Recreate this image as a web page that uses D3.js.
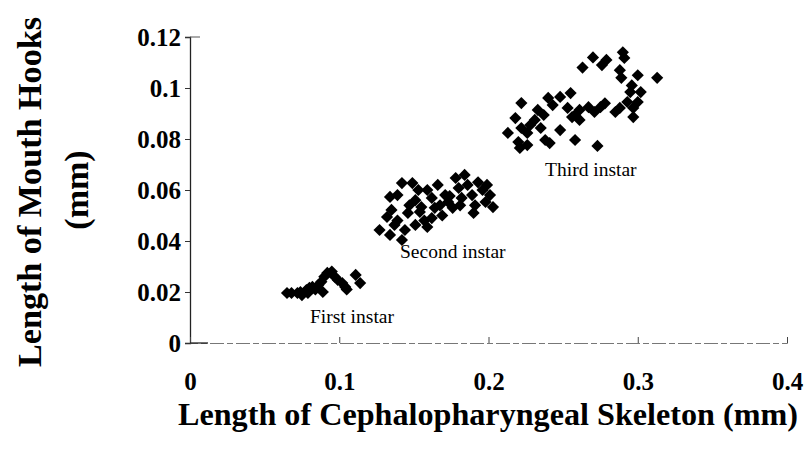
<!DOCTYPE html>
<html><head><meta charset="utf-8">
<script src="https://cdn.jsdelivr.net/npm/d3@7"></script>
<style>body{margin:0;background:#fff}svg{display:block}</style>
</head><body>
<svg id="c" width="809" height="452"></svg>
<script>
// Data (mm)
const firstX = [0.065,0.068,0.072,0.074,0.075,0.078,0.079,0.080,0.082,0.084,0.086,0.088,0.089,0.090,0.092,0.095,0.097,0.099,0.102,0.104,0.105,0.111,0.114];
const firstY = [0.0196,0.0196,0.0196,0.020,0.0188,0.0208,0.0196,0.0216,0.022,0.021,0.0227,0.024,0.020,0.026,0.0275,0.028,0.026,0.0247,0.0235,0.022,0.021,0.0267,0.0235];
const secondX = [0.127,0.134,0.132,0.135,0.134,0.139,0.142,0.149,0.151,0.153,0.155,0.139,0.146,0.157,0.159,0.144,0.142,0.159,0.162,0.164,0.166,0.171,0.173,0.176,0.178,0.180,0.182,0.184,0.186,0.189,0.191,0.193,0.196,0.199,0.201,0.203,0.198,0.190,0.162,0.169,0.147,0.154,0.1675,0.174,0.181,0.151,0.137];
const secondY = [0.0443,0.0424,0.0494,0.0522,0.0573,0.058,0.0627,0.0627,0.056,0.060,0.0533,0.048,0.051,0.048,0.0455,0.0443,0.0404,0.060,0.0569,0.053,0.062,0.058,0.0553,0.053,0.0647,0.0608,0.0569,0.0659,0.062,0.058,0.054,0.063,0.060,0.062,0.058,0.0533,0.0553,0.051,0.049,0.050,0.054,0.0514,0.054,0.0576,0.054,0.0463,0.0463];
const thirdX = [0.213,0.220,0.221,0.222,0.222,0.226,0.226,0.228,0.231,0.233,0.237,0.238,0.240,0.241,0.243,0.248,0.253,0.255,0.258,0.261,0.256,0.261,0.263,0.267,0.270,0.271,0.275,0.276,0.278,0.279,0.285,0.288,0.288,0.289,0.290,0.291,0.293,0.295,0.296,0.297,0.297,0.300,0.300,0.302,0.313,0.273,0.258,0.248,0.218,0.235];
const thirdY = [0.0824,0.0788,0.0765,0.0941,0.0843,0.0824,0.0776,0.0855,0.0875,0.0914,0.0894,0.0796,0.0961,0.0784,0.0933,0.0965,0.0922,0.098,0.0894,0.0875,0.0886,0.0914,0.108,0.0925,0.112,0.0906,0.0925,0.109,0.094,0.111,0.0906,0.0922,0.107,0.104,0.114,0.1118,0.0945,0.0984,0.101,0.0922,0.0886,0.105,0.0945,0.0984,0.104,0.0773,0.0796,0.0835,0.0882,0.0843];
const xTicks = [0, 0.1, 0.2, 0.3, 0.4];
const xTickLabels = ["0", "0.1", "0.2", "0.3", "0.4"];
const yTicks = [0, 0.02, 0.04, 0.06, 0.08, 0.1, 0.12];
const yTickLabels = ["0", "0.02", "0.04", "0.06", "0.08", "0.1", "0.12"];
const labels = [
  {text: "First instar", x: 0.0804, y: 0.0078},
  {text: "Second instar", x: 0.1407, y: 0.0333},
  {text: "Third instar", x: 0.2379, y: 0.0655}
];
const xTitle = "Length of Cephalopharyngeal Skeleton (mm)";
const yTitle1 = "Length of Mouth Hooks";
const yTitle2 = "(mm)";

const svg = d3.select("#c");
const x = d3.scaleLinear().domain([0, 0.4]).range([190, 787]);
const y = d3.scaleLinear().domain([0, 0.12]).range([343, 37]);
const serif = "'Liberation Serif','Times New Roman',serif";

// y axis
const gy = svg.append("g").attr("transform", `translate(${x(0)},0)`)
  .call(d3.axisLeft(y).tickValues(yTicks).tickFormat((d,i)=>yTickLabels[i]).tickSize(5).tickPadding(4));
gy.select(".domain").attr("stroke", "#222").attr("stroke-width", 1.3);
gy.selectAll(".tick line").attr("stroke", "#333");
gy.selectAll(".tick text").attr("font-family", serif).attr("font-weight", "bold").attr("font-size", 25).attr("fill", "#000");
svg.append("line").attr("x1", x(0)).attr("x2", x(0)+10).attr("y1", y(0.12)).attr("y2", y(0.12)).attr("stroke", "#555");

// x axis
const gx = svg.append("g").attr("transform", `translate(0,${y(0)})`)
  .call(d3.axisBottom(x).tickValues(xTicks).tickFormat((d,i)=>xTickLabels[i]).tickSize(-6).tickPadding(29));
gx.select(".domain").attr("stroke", "#777").attr("stroke-width", 1).attr("stroke-dasharray", "14,3,6,3");
gx.selectAll(".tick line").attr("stroke", "#444");
gx.selectAll(".tick text").attr("font-family", serif).attr("font-weight", "bold").attr("font-size", 25).attr("fill", "#000");
svg.append("line").attr("x1", x(0)).attr("x2", x(0)+18).attr("y1", y(0)).attr("y2", y(0)).attr("stroke", "#222").attr("stroke-width", 1.3);

// points
const diamond = d3.symbol().type(d3.symbolSquare).size(74);
function plot(xs, ys) {
  svg.append("g").selectAll("path").data(xs.map((v,i)=>[v, ys[i]])).join("path")
    .attr("d", diamond)
    .attr("transform", d => `translate(${x(d[0])},${y(d[1])}) rotate(45)`)
    .attr("fill", "#000");
}
plot(firstX, firstY);
plot(secondX, secondY);
plot(thirdX, thirdY);

// annotations
svg.append("g").selectAll("text").data(labels).join("text")
  .attr("x", d => x(d.x)).attr("y", d => y(d.y))
  .attr("font-family", serif).attr("font-size", 19.5).attr("fill", "#000")
  .text(d => d.text);

// titles
svg.append("text").attr("x", 488).attr("y", 425).attr("text-anchor", "middle")
  .attr("font-family", serif).attr("font-weight", "bold").attr("font-size", 31)
  .attr("textLength", 620).attr("lengthAdjust", "spacingAndGlyphs").text(xTitle);
svg.append("text").attr("transform", "translate(41,192) rotate(-90)").attr("text-anchor", "middle")
  .attr("font-family", serif).attr("font-weight", "bold").attr("font-size", 34)
  .attr("textLength", 350).attr("lengthAdjust", "spacingAndGlyphs").text(yTitle1);
svg.append("text").attr("transform", "translate(88,190) rotate(-90)").attr("text-anchor", "middle")
  .attr("font-family", serif).attr("font-weight", "bold").attr("font-size", 34).text(yTitle2);
</script>
</body></html>
